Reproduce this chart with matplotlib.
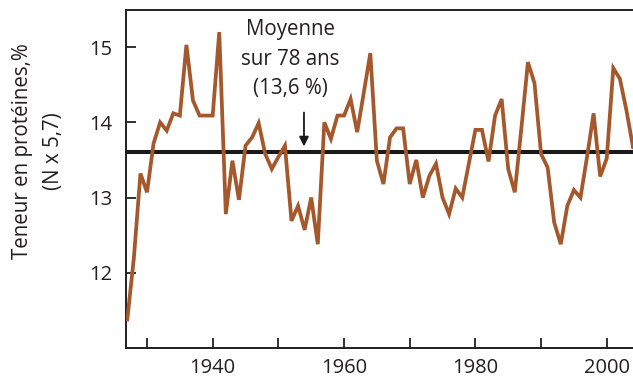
import matplotlib
matplotlib.use("Agg")
import matplotlib.pyplot as plt

plt.rcParams['font.family'] = ['Open Sans', 'DejaVu Sans']

years = list(range(1927, 2005))
protein = [11.38, 12.2, 13.32, 13.07, 13.72, 14.0, 13.89, 14.12, 14.09, 15.03,
           14.29, 14.09, 14.09, 14.09, 15.2, 12.78, 13.49, 12.97, 13.69, 13.8,
           13.99, 13.58, 13.38, 13.54, 13.69, 12.69, 12.89, 12.57, 13.0, 12.38,
           14.0, 13.78, 14.09, 14.09, 14.31, 13.87, 14.39, 14.92, 13.49, 13.18,
           13.8, 13.92, 13.92, 13.18, 13.5, 13.0, 13.29, 13.45, 13.0, 12.78,
           13.12, 13.0, 13.45, 13.9, 13.9, 13.48, 14.09, 14.31, 13.38, 13.07,
           13.92, 14.8, 14.52, 13.58, 13.4, 12.67, 12.38, 12.89, 13.1, 13.0,
           13.54, 14.12, 13.28, 13.52, 14.72, 14.58, 14.16, 13.67]
mean_value = 13.6
x_ticks = [1930, 1940, 1950, 1960, 1970, 1980, 1990, 2000]
x_labels = ['', '1940', '', '1960', '', '1980', '', '2000']
y_ticks = [12, 13, 14, 15]

txt = '#231f20'

fig = plt.figure(figsize=(6.33, 3.79), dpi=100)
ax = fig.add_axes([126 / 633, 31 / 379, 1 - 126 / 633, 338.5 / 379])

ax.plot(years, protein, color='#a5582c', lw=2.7, solid_joinstyle='miter', zorder=3)
ax.axhline(mean_value, color='#1a1a1a', lw=2.9, zorder=2)

ax.set_xlim(1926.8, 2004.0)
ax.set_ylim(11.0, 15.5)
ax.set_xticks(x_ticks)
ax.set_xticklabels(x_labels)
ax.set_yticks(y_ticks)
ax.tick_params(direction='in', length=7, width=1.3, color=txt, labelcolor=txt,
               labelsize=14.5)
ax.tick_params(axis='x', pad=7)
ax.tick_params(axis='y', pad=10)
ax.spines['right'].set_visible(False)
for s in ['left', 'bottom', 'top']:
    ax.spines[s].set_linewidth(1.4)
    ax.spines[s].set_color(txt)

ax.text(1951.8, 14.84, 'Moyenne\nsur 78 ans\n(13,6 %)', ha='center', va='center',
        fontsize=14.8, color=txt, linespacing=1.55)
ax.annotate('', xy=(1953.9, mean_value + 0.08), xytext=(1953.9, 14.13),
            arrowprops=dict(arrowstyle='-|>', color='#1a1a1a', lw=1.3,
                            mutation_scale=14, shrinkA=0, shrinkB=0))

fig.text(38 / 633, 1 - 151 / 379, 'Teneur en protéines,%\n(N x 5,7)', rotation=90,
         ha='center', va='center', fontsize=14.8, color=txt, linespacing=1.6,
         multialignment='center')

fig.savefig('out.png', dpi=100)
